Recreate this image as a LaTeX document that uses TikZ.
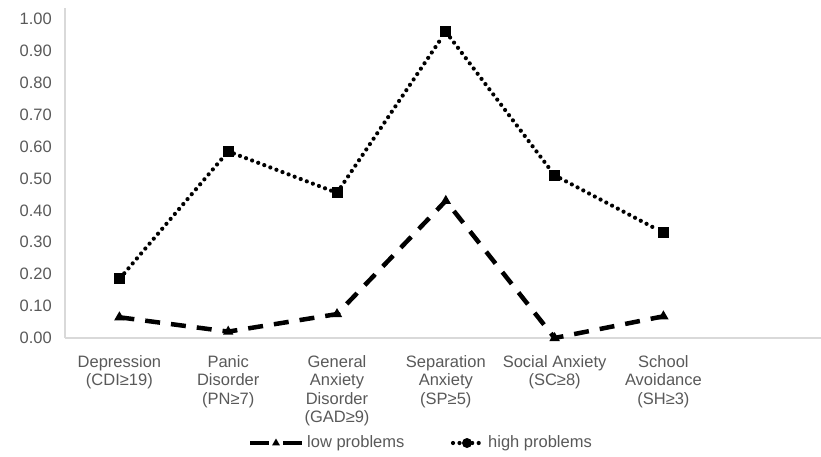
\documentclass[tikz,border=0pt]{standalone}
\usepackage{fontspec}
\setmainfont{Liberation Sans}
\usetikzlibrary{shapes.geometric}
\definecolor{axisgray}{RGB}{217,217,217}
\definecolor{labelgray}{RGB}{89,89,89}
\tikzset{
  highpt/.style={
    inner sep = 0pt,
    shape = rectangle,
    minimum size = 11pt,
    fill = black
  },
  lowpt/.style={
    inner sep = 0pt,
    shape = regular polygon,
    regular polygon sides = 3,
    minimum size = 12pt,
    fill = black
  },
  legdot/.style={
    inner sep = 0pt,
    shape = circle,
    minimum size = 10pt,
    fill = black
  },
}
\tikzset{
  lowline/.style={
    line width = 4.5pt,
    dash pattern = on 15pt off 11pt
  },
  highline/.style={
    line width = 4.2pt,
    line cap = round,
    dash pattern = on 0pt off 6.5pt
  },
  axisline/.style={
    draw = axisgray,
    line width = 1.5pt
  },
  ticklabel/.style={
    anchor = east,
    inner sep = 0pt,
    text = labelgray,
    font = \fontsize{16.5}{18.5}\selectfont
  },
  catlabel/.style={
    anchor = north,
    align = center,
    inner sep = 0pt,
    text = labelgray,
    font = \fontsize{16.5}{18.5}\selectfont
  },
  leglabel/.style={
    anchor = west,
    inner sep = 0pt,
    text = labelgray,
    font = \fontsize{16.5}{18.5}\selectfont
  }
}
\begin{document}
\begin{tikzpicture}[x=108.8pt, y=319pt]
        \useasboundingbox (-65pt,-118pt) rectangle (756pt,338pt);

        % axes
        \coordinate (o) at (0,0);
        \coordinate (xend) at (756pt,0);
        \coordinate (ytop) at (0,1.034);
        \draw[axisline] (o) -- (xend);
        \draw[axisline] (o) -- (ytop);

        % value labels
        \node[ticklabel] (t0) at (-13pt,0.0) {0.00};
        \node[ticklabel] (t1) at (-13pt,0.1) {0.10};
        \node[ticklabel] (t2) at (-13pt,0.2) {0.20};
        \node[ticklabel] (t3) at (-13pt,0.3) {0.30};
        \node[ticklabel] (t4) at (-13pt,0.4) {0.40};
        \node[ticklabel] (t5) at (-13pt,0.5) {0.50};
        \node[ticklabel] (t6) at (-13pt,0.6) {0.60};
        \node[ticklabel] (t7) at (-13pt,0.7) {0.70};
        \node[ticklabel] (t8) at (-13pt,0.8) {0.80};
        \node[ticklabel] (t9) at (-13pt,0.9) {0.90};
        \node[ticklabel] (t10) at (-13pt,1.0) {1.00};

        % categories
        \node[catlabel] (c1) at ([yshift=-17pt]0.5,0) {Depression\\(CDI≥19)};
        \node[catlabel] (c2) at ([yshift=-17pt]1.5,0) {Panic\\Disorder\\(PN≥7)};
        \node[catlabel] (c3) at ([yshift=-17pt]2.5,0) {General\\Anxiety\\Disorder\\(GAD≥9)};
        \node[catlabel] (c4) at ([yshift=-17pt]3.5,0) {Separation\\Anxiety\\(SP≥5)};
        \node[catlabel] (c5) at ([yshift=-17pt]4.5,0) {Social Anxiety\\(SC≥8)};
        \node[catlabel] (c6) at ([yshift=-17pt]5.5,0) {School\\Avoidance\\(SH≥3)};

        % high problems
        \node[highpt] (h1) at (0.5,0.185) {};
        \node[highpt] (h2) at (1.5,0.585) {};
        \node[highpt] (h3) at (2.5,0.455) {};
        \node[highpt] (h4) at (3.5,0.96) {};
        \node[highpt] (h5) at (4.5,0.51) {};
        \node[highpt] (h6) at (5.5,0.33) {};
        \draw[highline] (h1) -- (h2) -- (h3) -- (h4) -- (h5) -- (h6);

        % low problems
        \node[lowpt] (l1) at (0.5,0.065) {};
        \node[lowpt] (l2) at (1.5,0.02) {};
        \node[lowpt] (l3) at (2.5,0.075) {};
        \node[lowpt] (l4) at (3.5,0.43) {};
        \node[lowpt] (l5) at (4.5,0.0) {};
        \node[lowpt] (l6) at (5.5,0.068) {};
        \draw[lowline] (l1.center) -- (l2.center) -- (l3.center) -- (l4.center) -- (l5.center) -- (l6.center);

        % legend
        \coordinate (la) at (185pt,-105pt);
        \coordinate (lb) at (237pt,-105pt);
        \node[lowpt, minimum size=9pt] (lm) at (211pt,-105pt) {};
        \draw[line width=4.5pt] (la) -- ([xshift=-7pt]lm.center);
        \draw[line width=4.5pt] ([xshift=7pt]lm.center) -- (lb);
        \node[leglabel] (lowtxt) at (242pt,-105pt) {low problems};

        \coordinate (ha) at (388pt,-105pt);
        \coordinate (hb) at (418pt,-105pt);
        \node[legdot] (hm) at (402pt,-105pt) {};
        \draw[highline] (ha) -- (hm.west);
        \draw[highline] (hm.east) -- (hb);
        \node[leglabel] (hightxt) at (423pt,-105pt) {high problems};
\end{tikzpicture}
\end{document}
